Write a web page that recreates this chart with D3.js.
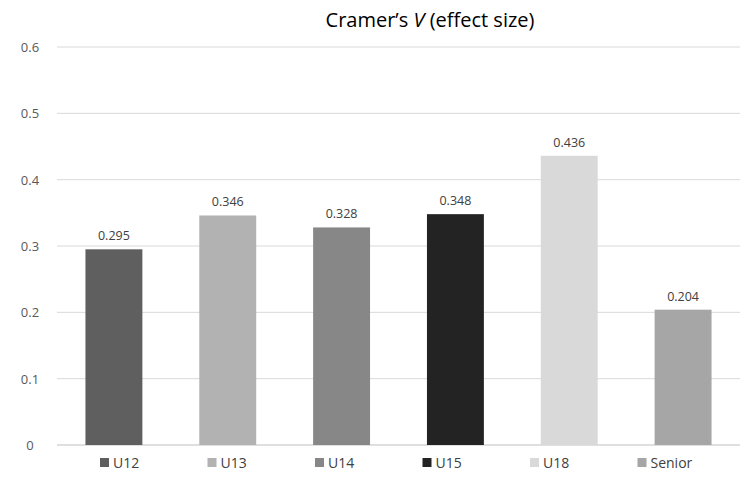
<!DOCTYPE html>
<html><head><meta charset="utf-8">
<script src="https://cdn.jsdelivr.net/npm/d3@7"></script>
<style>body{margin:0;background:#fff;font-family:"Open Sans","Noto Sans",sans-serif;}</style>
</head><body><svg id="c" width="751" height="490"></svg>
<script>
const categories = ["U12","U13","U14","U15","U18","Senior"];
const values = [0.295,0.346,0.328,0.348,0.436,0.204];
const colors = ["#5f5f5f","#b2b2b2","#878787","#232323","#d9d9d9","#a6a6a6"];
const yTicks = [0,0.1,0.2,0.3,0.4,0.5,0.6];

const svg = d3.select("#c");
const x = d3.scaleBand().domain(categories).range([57,740]).paddingInner(0.5).paddingOuter(0.25);
const y = d3.scaleLinear().domain([0,0.6]).range([445,47]);

svg.append("g").selectAll("line").data(yTicks).join("line")
  .attr("x1",57).attr("x2",740).attr("y1",d=>y(d)).attr("y2",d=>y(d))
  .attr("stroke",d=>d===0?"#bfbfbf":"#d9d9d9").attr("stroke-width",1);
svg.append("g").selectAll("text").data(yTicks).join("text")
  .attr("x",30).attr("y",d=>y(d)+5).attr("text-anchor","middle")
  .attr("font-size",13).attr("fill","#595959").text(d=>d===0?"0":d.toString());

svg.append("g").selectAll("rect").data(values).join("rect")
  .attr("x",(d,i)=>x(categories[i])).attr("width",x.bandwidth())
  .attr("y",d=>y(d)).attr("height",d=>y(0)-y(d)).attr("fill",(d,i)=>colors[i]);
svg.append("g").selectAll("text").data(values).join("text")
  .attr("x",(d,i)=>x(categories[i])+x.bandwidth()/2).attr("y",d=>y(d)-9)
  .attr("text-anchor","middle").attr("font-size",12.5).attr("fill","#404040").text(d=>d.toFixed(3));

const t = svg.append("text").attr("x",430).attr("y",27).attr("text-anchor","middle")
  .attr("font-size",20).attr("fill","#000");
t.append("tspan").text("Cramer’s ");
t.append("tspan").attr("font-style","italic").text("V");
t.append("tspan").text("  (effect size)");

const lg = svg.append("g").selectAll("g").data(categories).join("g")
  .attr("transform",(d,i)=>`translate(${100+i*107.5},463)`);
lg.append("rect").attr("x",0).attr("y",-5).attr("width",9).attr("height",9).attr("fill",(d,i)=>colors[i]);
lg.append("text").attr("x",13).attr("y",5).attr("font-size",14).attr("fill","#404040").text(d=>d);
</script></body></html>
